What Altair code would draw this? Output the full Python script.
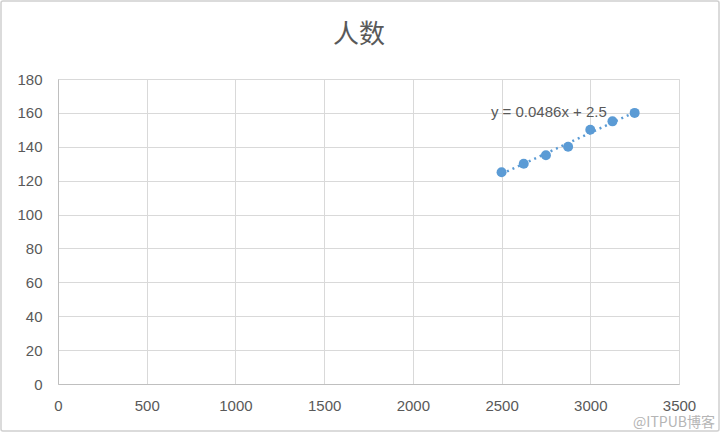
import altair as alt
import pandas as pd

# Scatter series
x_vals = [2500, 2625, 2750, 2875, 3000, 3125, 3250]
y_vals = [125, 130, 135, 140, 150, 155, 160]

x_ticks = [0, 500, 1000, 1500, 2000, 2500, 3000, 3500]
y_ticks = [0, 20, 40, 60, 80, 100, 120, 140, 160, 180]

title_text = "人数"
equation_text = "y = 0.0486x + 2.5"
watermark_text = "@ITPUB博客"

df = pd.DataFrame({"x": x_vals, "y": y_vals})

BLUE = "#5b9bd5"
GREY_TEXT = "#595959"
GRID = "#d9d9d9"
FONT = "Liberation Sans"

W, H = 621, 305

x_axis = alt.Axis(values=x_ticks, format="d", title=None, grid=True, ticks=False,
                  labelOverlap=False, labelFlush=False,
                  labelPadding=14, labelFontSize=15, labelColor=GREY_TEXT,
                  labelFont=FONT, domainColor="#bfbfbf", gridColor=GRID)
y_axis = alt.Axis(values=y_ticks, format="d", title=None, grid=True, ticks=False,
                  labelOverlap=False, labelFlush=False,
                  labelPadding=16, labelFontSize=15, labelColor=GREY_TEXT,
                  labelFont=FONT, domainColor="#bfbfbf", gridColor=GRID)
x_scale = alt.Scale(domain=[0, 3500], nice=False)
y_scale = alt.Scale(domain=[0, 180], nice=False)

base = alt.Chart(df)

# outer chart frame
frame = alt.Chart(pd.DataFrame({"a": [0]})).mark_rect(
    fill=None, stroke="#d0d0d0", strokeWidth=1.5, cornerRadius=2
).encode(x=alt.value(-57), x2=alt.value(W + 40), y=alt.value(-78), y2=alt.value(H + 47))

title = alt.Chart(pd.DataFrame({"t": [title_text]})).mark_text(
    align="center", baseline="middle", fontSize=26, color=GREY_TEXT, font="Noto Sans CJK SC"
).encode(x=alt.value(301), y=alt.value(-44), text="t:N")

points = base.mark_circle(size=100, color=BLUE, opacity=1).encode(
    x=alt.X("x:Q", scale=x_scale, axis=x_axis),
    y=alt.Y("y:Q", scale=y_scale, axis=y_axis),
)

trend = base.transform_regression("x", "y").mark_line(
    color=BLUE, strokeWidth=2.5, strokeDash=[2, 4]
).encode(
    x=alt.X("x:Q", scale=x_scale, axis=x_axis),
    y=alt.Y("y:Q", scale=y_scale, axis=y_axis),
)

equation = alt.Chart(pd.DataFrame({"t": [equation_text]})).mark_text(
    align="left", baseline="middle", fontSize=15, color=GREY_TEXT, font=FONT
).encode(
    x=alt.X(datum=2440, type="quantitative", scale=x_scale, axis=x_axis),
    y=alt.Y(datum=160.5, type="quantitative", scale=y_scale, axis=y_axis),
    text="t:N",
)

watermark = alt.Chart(pd.DataFrame({"t": [watermark_text]})).mark_text(
    align="right", baseline="middle", fontSize=14, color="#b5b5b5", font="Noto Sans CJK SC"
).encode(x=alt.value(W + 36), y=alt.value(H + 39), text="t:N")

chart = alt.layer(frame, title, points, trend, equation, watermark).properties(
    width=W, height=H,
    autosize=alt.AutoSizeParams(type="none"),
    padding={"left": 58, "top": 79, "right": 41, "bottom": 49},
).configure_view(stroke=None).configure(background="white")

chart.save("out.html", embed_options={"renderer": "svg", "actions": False})
